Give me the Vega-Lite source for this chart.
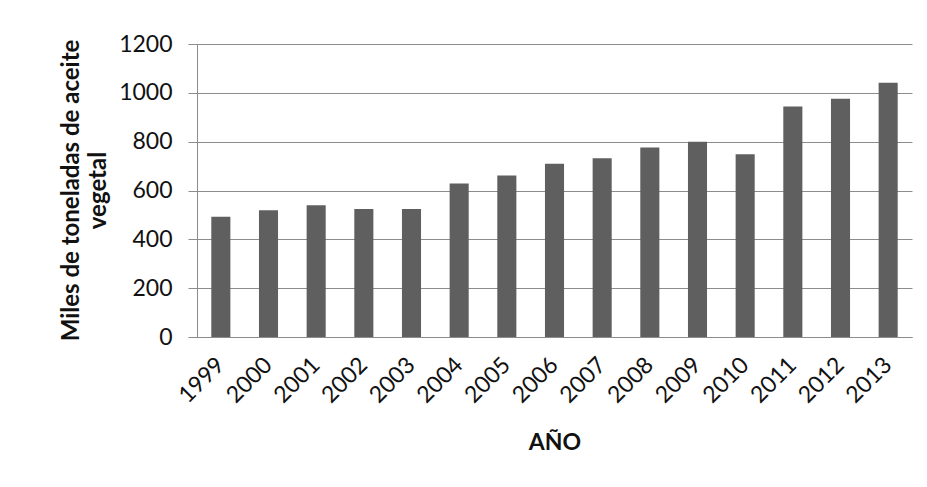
{
  "$schema": "https://vega.github.io/schema/vega-lite/v6.json",
  "width": 715,
  "height": 293,
  "autosize": {"type": "none"},
  "padding": {"left": 197, "top": 44, "right": 15, "bottom": 150},
  "background": "white",
  "data": {
    "values": [
      {"anio": "1999", "valor": 493},
      {"anio": "2000", "valor": 519},
      {"anio": "2001", "valor": 540},
      {"anio": "2002", "valor": 524},
      {"anio": "2003", "valor": 524},
      {"anio": "2004", "valor": 629},
      {"anio": "2005", "valor": 661},
      {"anio": "2006", "valor": 710},
      {"anio": "2007", "valor": 732},
      {"anio": "2008", "valor": 776},
      {"anio": "2009", "valor": 800},
      {"anio": "2010", "valor": 748},
      {"anio": "2011", "valor": 944},
      {"anio": "2012", "valor": 976},
      {"anio": "2013", "valor": 1041}
    ]
  },
  "mark": {"type": "bar", "color": "#5f5f5f"},
  "encoding": {
    "x": {
      "field": "anio",
      "type": "nominal",
      "sort": null,
      "scale": {"paddingInner": 0.6, "paddingOuter": 0.3},
      "axis": {
        "title": "AÑO",
        "titleFont": "Lato",
        "titleFontSize": 23,
        "titleFontWeight": "bold",
        "titleColor": "#111",
        "titleY": 105,
        "titleBaseline": "middle",
        "labelAngle": -45,
        "labelAlign": "right",
        "labelBaseline": "middle",
        "labelFont": "Lato",
        "labelFontSize": 23,
        "labelColor": "#111",
        "labelPadding": 24,
        "ticks": false,
        "domainColor": "#8c8c8c",
        "domainWidth": 1
      }
    },
    "y": {
      "field": "valor",
      "type": "quantitative",
      "scale": {"domain": [0, 1200]},
      "axis": {
        "title": ["Miles de toneladas de aceite", "vegetal"],
        "titleFont": "Lato",
        "titleFontSize": 24,
        "titleFontWeight": "bold",
        "titleColor": "#111",
        "titleAngle": -90,
        "titleAlign": "center",
        "titleBaseline": "alphabetic",
        "titleLineHeight": 27,
        "titleX": -119,
        "titleY": 146,
        "values": [0, 200, 400, 600, 800, 1000, 1200],
        "format": "d",
        "labelFont": "Lato",
        "labelFontSize": 23,
        "labelColor": "#111",
        "labelPadding": 16,
        "tickSize": 9,
        "tickColor": "#8c8c8c",
        "domainColor": "#8c8c8c",
        "grid": true,
        "gridColor": "#8c8c8c",
        "gridWidth": 1
      }
    }
  },
  "config": {"view": {"stroke": null}}
}
